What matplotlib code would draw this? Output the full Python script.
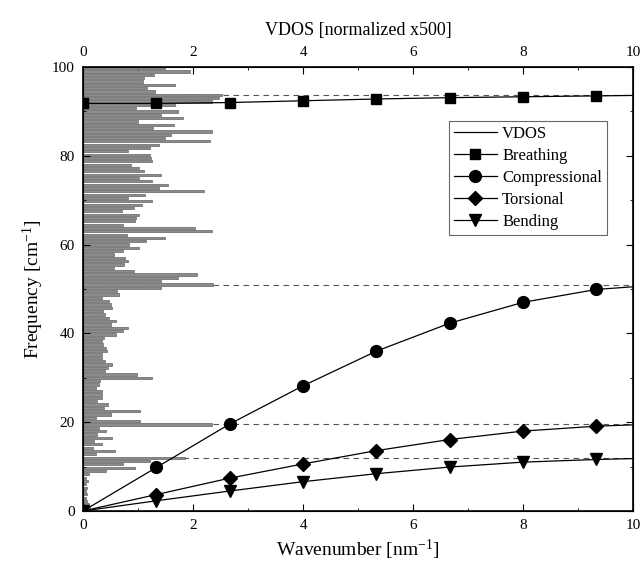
import numpy as np
import matplotlib
matplotlib.use('Agg')
import matplotlib.pyplot as plt
from matplotlib.lines import Line2D
from matplotlib.ticker import MultipleLocator

plt.rcParams['font.family'] = ['Liberation Serif', 'DejaVu Serif']
plt.rcParams['mathtext.fontset'] = 'custom'
plt.rcParams['mathtext.rm'] = 'Liberation Serif'
plt.rcParams['mathtext.it'] = 'Liberation Serif:italic'

# dispersion curves (bottom axis)
wavenumber = [0, 1.333, 2.667, 4.0, 5.333, 6.667, 8.0, 9.333, 10.0]
breathing = [91.8, 91.8, 92.0, 92.4, 92.8, 93.1, 93.3, 93.5, 93.6]
compressional = [0, 9.8, 19.6, 28.2, 36.0, 42.3, 47.0, 49.9, 50.5]
torsional = [0, 3.7, 7.4, 10.6, 13.6, 16.1, 18.0, 19.1, 19.4]
bending = [0, 2.3, 4.5, 6.6, 8.4, 9.9, 11.0, 11.6, 11.8]

# zone-boundary levels (dashed)
plateaus = [93.7, 51.0, 19.5, 12.0]

# VDOS histogram, bins of 0.75 cm-1, listed from the top bin (99.75) down to 0
vdos_step = 0.75
vdos_top_down = [
    1.49, 1.95, 1.29, 1.10, 1.09, 1.67, 1.16, 1.31, 2.52, 2.48,
    2.34, 1.67, 0.96, 1.73, 1.42, 1.82, 0.99, 1.65, 1.27, 2.34,
    1.59, 1.49, 2.30, 1.38, 1.22, 0.82, 1.21, 1.23, 1.25, 0.87,
    1.02, 1.10, 1.41, 1.02, 1.25, 1.55, 1.38, 2.19, 1.13, 0.82,
    1.25, 1.07, 0.93, 0.70, 1.01, 0.96, 0.95, 0.72, 2.04, 2.34,
    0.79, 1.49, 1.15, 0.84, 1.02, 0.72, 0.56, 0.76, 0.82, 0.75,
    0.56, 0.92, 2.08, 1.73, 1.42, 2.36, 1.42,
    0.62, 0.65, 0.35, 0.48, 0.50, 0.52, 0.36, 0.40, 0.47, 0.59,
    0.50, 0.82, 0.73, 0.60, 0.38, 0.34, 0.36, 0.41, 0.44, 0.34,
    0.35, 0.40, 0.52, 0.46, 0.40, 0.98, 1.25, 0.30, 0.29, 0.24,
    0.35, 0.34, 0.34, 0.25, 0.46, 0.38, 1.04, 0.50, 0.24, 1.04,
    2.34, 0.29, 0.42, 0.25, 0.52, 0.20, 0.34, 0.18, 0.58, 0.24,
    1.85, 1.22, 0.72, 0.95, 0.41,
    0.10, 0.06, 0.09, 0.05, 0.08, 0.06, 0.08, 0.05, 0.08, 0.10, 0.12, 0.15,
]
vdos = np.array(vdos_top_down[::-1])
vdos_freq = np.arange(len(vdos)) * vdos_step

fig = plt.figure(figsize=(6.44, 5.67), dpi=100)
ax = fig.add_axes([0.129, 0.0988, 0.854, 0.783])
ax2 = ax.twiny()

# VDOS on the top axis, behind the curves
ax2.barh(vdos_freq, vdos, height=0.5, color='#8c8c8c', edgecolor='#4a4a4a',
         linewidth=0.4, zorder=2)
for p in plateaus:
    ax2.axhline(p, color='#555555', lw=0.8, ls=(0, (5, 4)), zorder=1)
ax2.set_xlim(0, 10)
ax2.xaxis.set_major_locator(MultipleLocator(2))
ax2.xaxis.set_minor_locator(MultipleLocator(1))
ax2.tick_params(which='both', direction='in', labelsize=11, pad=6)
ax2.tick_params(which='major', length=5)
ax2.tick_params(which='minor', length=2.5)
ax2.set_xlabel('VDOS [normalized x500]', fontsize=13, labelpad=8)

ax.set_zorder(ax2.get_zorder() + 1)
ax.patch.set_visible(False)

ms = dict(color='black', lw=0.9, markevery=slice(0, 8), clip_on=True)
ax.plot(wavenumber, breathing, marker='s', markersize=7.5, label='Breathing', **ms)
ax.plot(wavenumber, compressional, marker='o', markersize=8.5, label='Compressional', **ms)
ax.plot(wavenumber, torsional, marker='D', markersize=7, label='Torsional', **ms)
ax.plot(wavenumber, bending, marker='v', markersize=8.5, label='Bending', **ms)

ax.set_xlim(0, 10)
ax.set_ylim(0, 100)
ax.xaxis.set_major_locator(MultipleLocator(2))
ax.xaxis.set_minor_locator(MultipleLocator(1))
ax.yaxis.set_major_locator(MultipleLocator(20))
ax.yaxis.set_minor_locator(MultipleLocator(10))
ax.tick_params(which='both', direction='in', right=True, top=False, labelsize=11, pad=6)
ax.tick_params(which='major', length=5)
ax.tick_params(which='minor', length=2.5)
for s in ax.spines.values():
    s.set_linewidth(1.2)
ax.set_xlabel('Wavenumber [nm$^{\\mathregular{-1}}$]', fontsize=14, labelpad=4)
ax.set_ylabel('Frequency [cm$^{\\mathregular{-1}}$]', fontsize=14, labelpad=4)

handles, labels = ax.get_legend_handles_labels()
handles = [Line2D([], [], color='black', lw=0.9)] + handles
labels = ['VDOS'] + labels
leg = ax.legend(handles, labels, loc='upper left', bbox_to_anchor=(0.665, 0.878),
                borderaxespad=0, fancybox=False, edgecolor='#666666', fontsize=12,
                handlelength=2.6, handletextpad=0.3, labelspacing=0.35,
                borderpad=0.3, framealpha=1)
leg.get_frame().set_linewidth(0.8)

fig.savefig('out.png', dpi=100)
